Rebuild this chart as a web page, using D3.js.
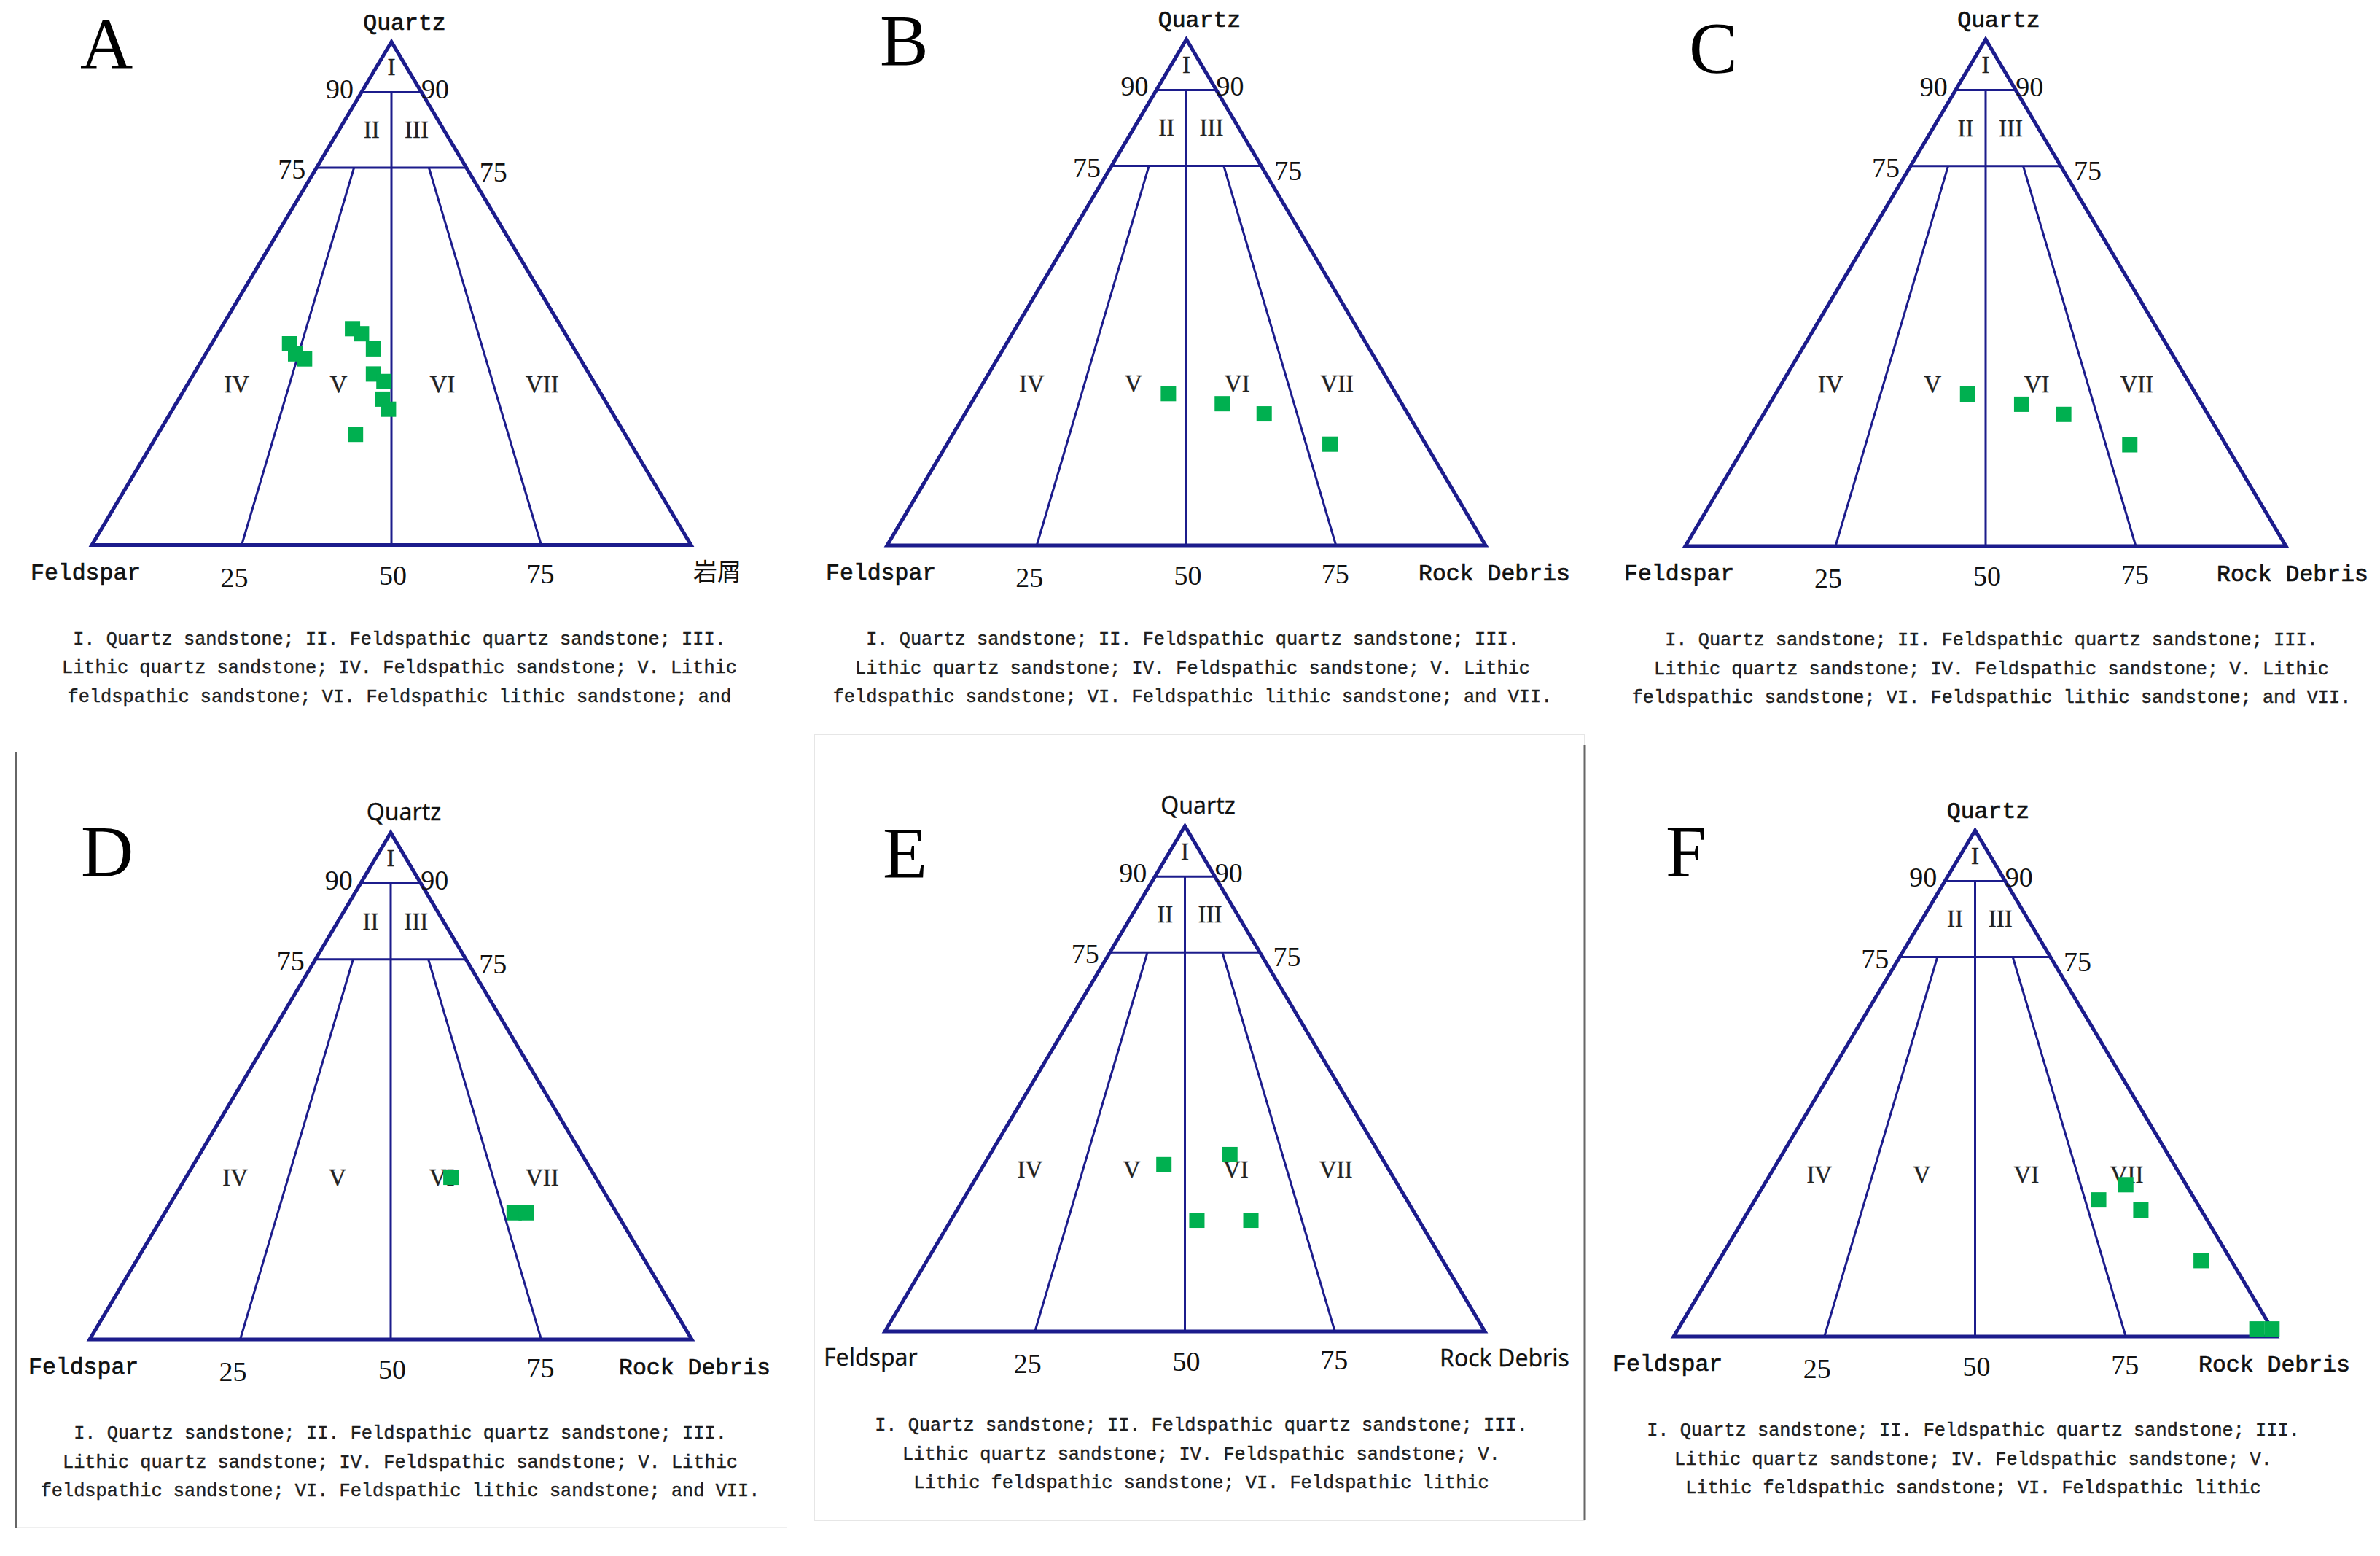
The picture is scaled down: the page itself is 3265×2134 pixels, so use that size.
<!DOCTYPE html>
<html>
<head>
<meta charset="utf-8">
<script src="https://cdn.jsdelivr.net/npm/d3@7/dist/d3.min.js"></script>
<style>
  body { margin: 0; background: #fff; }
  .frame { fill: none; stroke: #1c1c8c; stroke-width: 5; stroke-linejoin: miter; }
  .inner { fill: none; stroke: #1c1c8c; stroke-width: 3; }
  .tick { font-family: "Liberation Serif", serif; font-size: 38px; fill: #111; }
  .region { font-family: "Liberation Serif", serif; font-size: 33px; fill: #222; stroke: #222; stroke-width: 0.4; }
  .vertex { font-family: "Liberation Mono", monospace; font-size: 31.5px; fill: #111; stroke: #111; stroke-width: 0.7; }
  .vertex.sans { font-family: "Noto Sans", sans-serif; font-size: 32px; stroke-width: 0.3; }
  .cjk { font-family: "Noto Sans CJK SC", sans-serif; font-size: 33px; fill: #111; }
  .letter { font-family: "Liberation Serif", serif; font-size: 100px; fill: #000; }
  .caption { font-family: "Liberation Mono", monospace; font-size: 25.3px; fill: #1e1e1e; stroke: #1e1e1e; stroke-width: 0.45; }
</style>
</head>
<body>
<div id="chart"></div>
<script>
// sample compositions as [Quartz, Feldspar, Rock debris] in percent
var samplesA = [
    [40, 47, 13], [38, 47, 15], [37, 46, 17], [43, 35, 22], [42, 34, 24], [39, 33.5, 27.5],
    [34, 36, 30], [32.5, 35, 32.5], [29, 37, 34], [27, 37, 36], [22, 45, 33]
];
var samplesB = [[30, 38, 32], [28, 30, 42], [26, 24, 50], [20, 16, 64]];
var samplesC = [[30, 38, 32], [28, 30, 42], [26, 24, 50], [20, 16, 64]];
var samplesD = [[32, 24, 44], [25, 17, 58], [25, 15, 60]];
var samplesE = [[33, 37, 30], [35, 25, 40], [22, 37, 41], [22, 28, 50]];
var samplesF = [[27, 16, 57], [30, 10, 60], [25, 10, 65], [15, 5, 80], [1.5, 2.5, 96], [1.5, 0, 98.5]];

var panelNames = ["A", "B", "C", "D", "E", "F"];
var quartzTicks = [90, 75];
var baseTicks = [25, 50, 75];
var regionNames = ["I", "II", "III", "IV", "V", "VI", "VII"];

var captionLong = [
    "I. Quartz sandstone; II. Feldspathic quartz sandstone; III.",
    "Lithic quartz sandstone; IV. Feldspathic sandstone; V. Lithic",
    "feldspathic sandstone; VI. Feldspathic lithic sandstone; and VII."
];
var captionA = [
    "I. Quartz sandstone; II. Feldspathic quartz sandstone; III.",
    "Lithic quartz sandstone; IV. Feldspathic sandstone; V. Lithic",
    "feldspathic sandstone; VI. Feldspathic lithic sandstone; and"
];
var captionShort = [
    "I. Quartz sandstone; II. Feldspathic quartz sandstone; III.",
    "Lithic quartz sandstone; IV. Feldspathic sandstone; V.",
    "Lithic feldspathic sandstone; VI. Feldspathic lithic"
];

// where each diagram sits on the page
var panels = [
    {left: 126,  width: 822, apexY: 57.5, baseY: 747.5, data: samplesA, letter: [110, 94],   rightLabel: "岩屑",       rdx: 3,    sans: false, caption: captionA,     capX: 548},
    {left: 1217, width: 821, apexY: 54,   baseY: 748,   data: samplesB, letter: [1207, 89],  rightLabel: "Rock Debris", rdx: -92,  sans: false, caption: captionLong,  capX: 1636},
    {left: 2312, width: 824, apexY: 54,   baseY: 749,   data: samplesC, letter: [2317, 99],  rightLabel: "Rock Debris", rdx: -95,  sans: false, caption: captionLong,  capX: 2732},
    {left: 123,  width: 826, apexY: 1142, baseY: 1837,  data: samplesD, letter: [111, 1201], rightLabel: "Rock Debris", rdx: -100, sans: false, sansQ: true, caption: captionLong, capX: 549},
    {left: 1214, width: 823, apexY: 1133, baseY: 1826,  data: samplesE, letter: [1211, 1203], rightLabel: "Rock Debris", rdx: -62, sans: true, sansQ: true, caption: captionShort, capX: 1648},
    {left: 2296, width: 827, apexY: 1139, baseY: 1833,  data: samplesF, letter: [2285, 1201], rightLabel: "Rock Debris", rdx: -107, sans: false, caption: captionShort, capX: 2707}
];

// label spots inside the fields as [Q, share of rock debris]
var regionPos = [[95, 0.5], [82.5, 0.31], [82.5, 0.74], [32, 0.12], [32, 0.37], [32, 0.625], [32, 0.87]];

var svg = d3.select("#chart").append("svg")
    .attr("width", 3265)
    .attr("height", 2134);

// panel frames from the source figure
svg.append("rect")
    .attr("x", 1117).attr("y", 1007)
    .attr("width", 1057).attr("height", 1078)
    .attr("fill", "none").attr("stroke", "#e6e6e6").attr("stroke-width", 2);
svg.append("line")
    .attr("x1", 23).attr("x2", 1079).attr("y1", 2095).attr("y2", 2095)
    .attr("stroke", "#efefef").attr("stroke-width", 2);
svg.append("line")
    .attr("x1", 22).attr("x2", 22).attr("y1", 1031).attr("y2", 2096)
    .attr("stroke", "#666").attr("stroke-width", 3);
svg.append("line")
    .attr("x1", 2174).attr("x2", 2174).attr("y1", 1022).attr("y2", 2085)
    .attr("stroke", "#666").attr("stroke-width", 3);

var line = d3.line();

panels.forEach(function(p, i) {
    var x = d3.scaleLinear().domain([0, 100]).range([p.left, p.left + p.width]);
    var y = d3.scaleLinear().domain([0, 100]).range([p.baseY, p.apexY]);
    // ternary -> page: q quartz, r rock debris
    function pt(d) { return [x(d[2] + d[0] / 2), y(d[0])]; }

    var g = svg.append("g").attr("class", "panel-" + panelNames[i]);

    // outer triangle
    g.append("path")
        .attr("class", "frame")
        .attr("d", line([pt([100, 0, 0]), pt([0, 100, 0]), pt([0, 0, 100])]) + "Z");

    // 90 and 75 quartz lines
    quartzTicks.forEach(function(q) {
        g.append("path")
            .attr("class", "inner")
            .attr("d", line([pt([q, 100 - q, 0]), pt([q, 0, 100 - q])]));
    });

    // F:R = 1:1 line
    g.append("path")
        .attr("class", "inner")
        .attr("d", line([pt([90, 5, 5]), pt([0, 50, 50])]));

    // F:R = 3:1 and 1:3 rays below 75
    baseTicks.filter(function(t) { return t != 50; }).forEach(function(t) {
        g.append("path")
            .attr("class", "inner")
            .attr("d", line([pt([75, 25 * (1 - t / 100), 25 * t / 100]), pt([0, 100 - t, t])]));
    });

    // quartz tick labels on both sides
    quartzTicks.forEach(function(q) {
        var l = pt([q, 100 - q, 0]), r = pt([q, 0, 100 - q]);
        var off = q == 90 ? [11, 8, 0, 8] : [15, 15, 18, 19];
        g.append("text").attr("class", "tick")
            .attr("x", l[0] - off[0]).attr("y", l[1] + off[1])
            .attr("text-anchor", "end").text(q);
        g.append("text").attr("class", "tick")
            .attr("x", r[0] + off[2]).attr("y", r[1] + off[3])
            .attr("text-anchor", "start").text(q);
    });

    // base tick labels
    var baseOff = {25: [-10, 57], 50: [2, 54], 75: [-1, 52]};
    baseTicks.forEach(function(t) {
        var b = pt([0, 100 - t, t]);
        g.append("text").attr("class", "tick")
            .attr("x", b[0] + baseOff[t][0]).attr("y", b[1] + baseOff[t][1])
            .attr("text-anchor", "middle").text(t);
    });

    // corner names
    var apex = pt([100, 0, 0]), fl = pt([0, 100, 0]), rd = pt([0, 0, 100]);
    g.append("text")
        .attr("class", p.sansQ ? "vertex sans" : "vertex")
        .attr("x", apex[0] + 18).attr("y", apex[1] - 17)
        .attr("text-anchor", "middle").text("Quartz");
    g.append("text")
        .attr("class", p.sans ? "vertex sans" : "vertex")
        .attr("x", fl[0] - 84).attr("y", fl[1] + 47)
        .text("Feldspar");
    g.append("text")
        .attr("class", p.rightLabel == "岩屑" ? "cjk" : (p.sans ? "vertex sans" : "vertex"))
        .attr("x", rd[0] + p.rdx).attr("y", rd[1] + 48)
        .text(p.rightLabel);

    // field numbers
    g.selectAll(".region")
        .data(regionNames)
        .enter().append("text")
        .attr("class", "region")
        .attr("text-anchor", "middle")
        .attr("dominant-baseline", "central")
        .attr("x", function(d, k) { var q = regionPos[k][0], s = regionPos[k][1]; return pt([q, (100 - q) * (1 - s), (100 - q) * s])[0]; })
        .attr("y", function(d, k) { return y(regionPos[k][0]); })
        .text(function(d) { return d; });

    // samples
    g.selectAll(".sample")
        .data(p.data)
        .enter().append("rect")
        .attr("class", "sample")
        .attr("x", function(d) { return pt(d)[0] - 10.5; })
        .attr("y", function(d) { return pt(d)[1] - 10.5; })
        .attr("width", 21)
        .attr("height", 21)
        .attr("fill", "#00b050");

    // panel letter
    g.append("text").attr("class", "letter")
        .attr("x", p.letter[0]).attr("y", p.letter[1])
        .text(panelNames[i]);

    // caption under the diagram
    g.selectAll(".caption")
        .data(p.caption)
        .enter().append("text")
        .attr("class", "caption")
        .attr("text-anchor", "middle")
        .attr("x", p.capX)
        .attr("y", function(d, k) { return p.baseY + 136 + k * 39.5; })
        .text(function(d) { return d; });
});
</script>
</body>
</html>
